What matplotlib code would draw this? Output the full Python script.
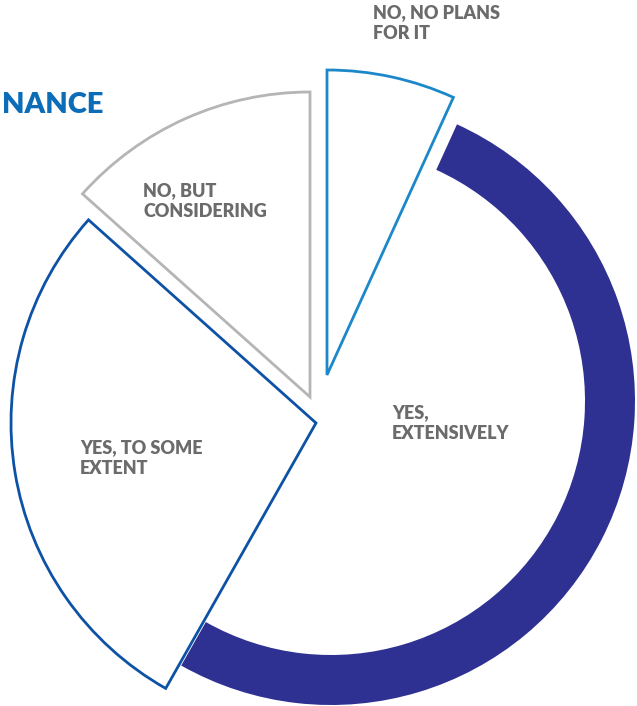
import numpy as np
import matplotlib.pyplot as plt
from matplotlib.patches import Wedge

# survey answers, clockwise from 12 o'clock
labels = ["NO, NO PLANS\nFOR IT", "YES,\nEXTENSIVELY", "YES, TO SOME\nEXTENT", "NO, BUT\nCONSIDERING"]
shares = [6.8, 51.4, 28.4, 13.4]

edge_colors = ["#1C88CA", None, "#0D52A5", "#B5B5B5"]
ring_color = "#2E3192"
text_color = "#6B6B6B"
title_color = "#0B6CB8"

# layout (pixel units, y up)
W, H = 637, 706
cx, cy = 331, 305
radius = 305
ring_width = 50
offsets = [(-4, 26), (0, 0), (-15, -22), (-21, 4)]
label_pos = [(373, 702), (392, 302), (80, 267), (143, 524)]

fig = plt.figure(figsize=(W / 100, H / 100), dpi=100)
ax = fig.add_axes([0, 0, 1, 1])
ax.set_xlim(0, W)
ax.set_ylim(0, H)
ax.axis("off")

# angles from data, clockwise starting at 90 deg
ends = 90 - 360 * np.cumsum(shares) / np.sum(shares)
starts = np.concatenate([[90], ends[:-1]])

for i in range(len(shares)):
  c = (cx + offsets[i][0], cy + offsets[i][1])
  t1, t2 = ends[i], starts[i]
  if edge_colors[i] is None:
    ax.add_patch(Wedge(c, radius - 1, t1, t2, width=ring_width, facecolor=ring_color, edgecolor="none"))
  else:
    ax.add_patch(Wedge(c, radius, t1, t2, facecolor="white", edgecolor=edge_colors[i],
                       linewidth=2.0, joinstyle="miter"))
  ax.text(label_pos[i][0], label_pos[i][1], labels[i], ha="left", va="top",
          fontsize=13, fontweight="heavy", color=text_color, family="Lato", linespacing=1.3)

ax.text(2, 706 - 105, "NANCE", ha="left", va="center", fontsize=21, fontweight="heavy",
        color=title_color, family="Lato")

fig.savefig("out.png", dpi=100)
